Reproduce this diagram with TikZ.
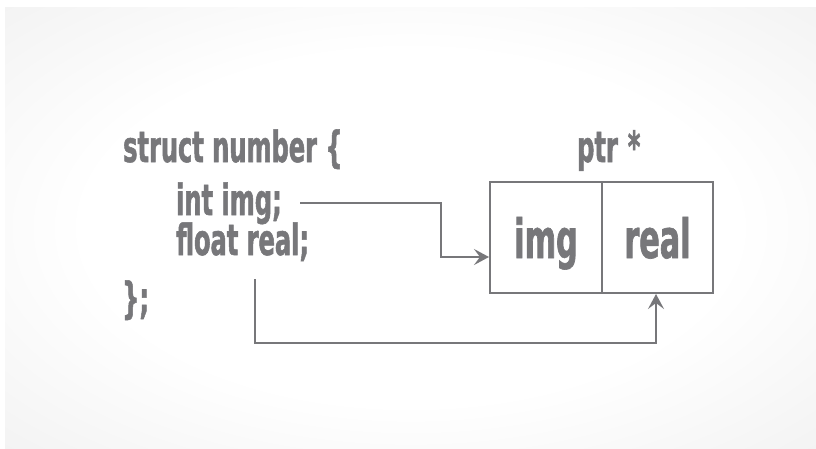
\documentclass[tikz,border=0pt]{standalone}
\usepackage{fontspec}
\newfontfamily\dfont{DejaVu Sans}[FakeStretch=0.56,FakeBold=1.2]
\usetikzlibrary{arrows.meta}
\definecolor{ink}{HTML}{77777A}
\definecolor{bgedge}{HTML}{E8E8E8}
\pgfdeclareradialshading{bgshade}{\pgfpoint{0bp}{0bp}}{color(0bp)=(white); color(20bp)=(white); color(50bp)=(bgedge); color(100bp)=(bgedge)}
\begin{document}
\begin{tikzpicture}[x=1pt,y=-1pt,
  code/.style={anchor=base west, inner sep=0pt, text=ink,
    font=\dfont\bfseries\fontsize{43}{43}\selectfont},
  cell/.style={draw=ink, line width=2pt, minimum width=112pt, minimum height=111pt,
    inner sep=0pt, anchor=north west, text=ink, text height=41pt, text depth=0pt,
    font=\dfont\bfseries\fontsize{54}{54}\selectfont},
  link/.style={draw=ink, line width=2pt,
    -{Stealth[length=15pt,width=16pt,inset=6pt]}}]
\fill[white] (0,0) rectangle (816,448);
\shade[shading=bgshade] (5,7) rectangle (816,448);
\useasboundingbox (0,0) rectangle (816,448);

\node[code] (l1) at (123,162) {struct number \{};
\node[code] (l2) at (176,215) {int img;};
\node[code] (l3) at (176,255) {float real;};
\node[code] (l4) at (122,313) {\};};

\node[code] (ptr) at (577,162) {ptr\hspace{10pt}*};

\node[cell] (imgcell) at (489,181) {img};
\node[cell, minimum width=111pt] (realcell) at (601,181) {real};

\coordinate (s1) at (300,203);
\coordinate (k1) at (441,257);
\draw[link] (s1) -| (k1) -- (k1 -| imgcell.west);

\coordinate (s2) at (255,279);
\coordinate (k2) at (656,343);
\draw[link] (s2) |- (k2) -- (k2 |- realcell.south);
\end{tikzpicture}
\end{document}
